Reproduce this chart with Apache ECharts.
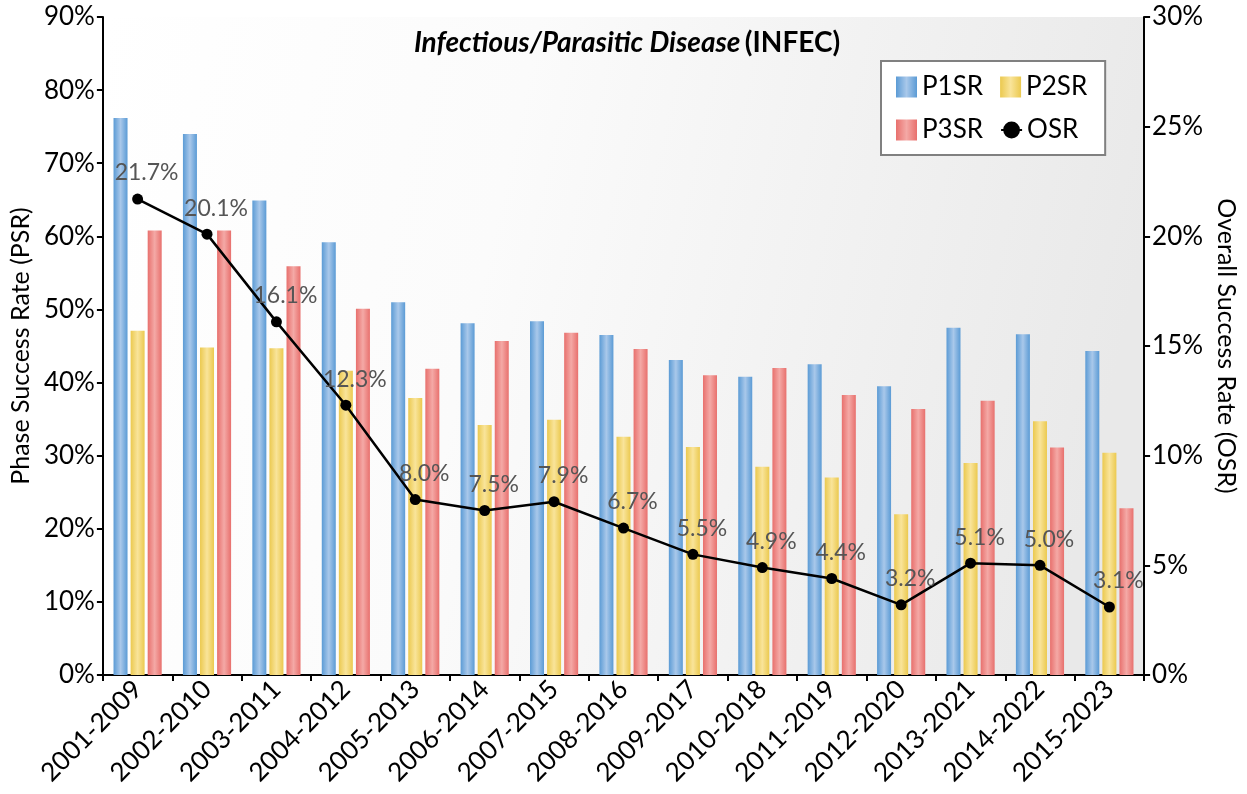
<!DOCTYPE html>
<html>
<head>
<meta charset="utf-8">
<script src="https://cdn.jsdelivr.net/npm/echarts@6/dist/echarts.min.js"></script>
<style>
  html, body { margin: 0; padding: 0; background: #fff; }
  #chart { width: 1247px; height: 794px; }
</style>
</head>
<body>
<div id="chart"></div>
<script>
// periods on the x axis
var periods = ['2001-2009', '2002-2010', '2003-2011', '2004-2012', '2005-2013', '2006-2014', '2007-2015',
  '2008-2016', '2009-2017', '2010-2018', '2011-2019', '2012-2020', '2013-2021', '2014-2022', '2015-2023'];
// phase success rates (%)
var p1sr = [76.2, 74.0, 64.9, 59.2, 51.0, 48.1, 48.4, 46.5, 43.1, 40.8, 42.5, 39.5, 47.5, 46.6, 44.3];
var p2sr = [47.1, 44.8, 44.7, 41.6, 37.9, 34.2, 34.9, 32.6, 31.2, 28.5, 27.0, 22.0, 29.0, 34.7, 30.4];
var p3sr = [60.8, 60.8, 55.9, 50.1, 41.9, 45.7, 46.8, 44.6, 41.0, 42.0, 38.3, 36.4, 37.5, 31.1, 22.8];
// overall success rate (%)
var osr = [21.7, 20.1, 16.1, 12.3, 8.0, 7.5, 7.9, 6.7, 5.5, 4.9, 4.4, 3.2, 5.1, 5.0, 3.1];

var FONT = 'Lato';

function tube(base, light) {
  return new echarts.graphic.LinearGradient(0, 0, 1, 0, [
    {offset: 0, color: base},
    {offset: 0.5, color: light},
    {offset: 1, color: base}
  ]);
}

function barSeries(name, data, base, light) {
  return {
    name: name,
    type: 'bar',
    yAxisIndex: 0,
    data: data,
    barWidth: 14,
    barGap: '22%',
    itemStyle: { color: tube(base, light) }
  };
}

var myChart = echarts.init(document.getElementById('chart'));
myChart.setOption({
  animation: false,
  textStyle: { fontFamily: FONT },
  title: {
    left: 622,
    top: 24,
    textAlign: 'center',
    text: '{a|Infectious/Parasitic Disease} {b|(INFEC)}',
    textStyle: {
      rich: {
        a: { fontFamily: FONT, fontSize: 28, fontWeight: 'bold', fontStyle: 'italic', color: '#000' },
        b: { fontFamily: FONT, fontSize: 28, fontWeight: 'bold', color: '#000' }
      }
    }
  },
  legend: {
    left: 881,
    top: 61,
    width: 200,
    padding: [13, 18, 12, 15],
    itemGap: 17,
    itemWidth: 21,
    itemHeight: 21,
    backgroundColor: '#fff',
    borderColor: '#808080',
    borderWidth: 2,
    textStyle: { fontFamily: FONT, fontSize: 26, color: '#000' },
    data: [
      { name: 'P1SR', icon: 'rect' },
      { name: 'P2SR', icon: 'rect' },
      { name: 'P3SR', icon: 'rect' },
      'OSR'
    ]
  },
  grid: {
    left: 101,
    right: 99,
    top: 17,
    bottom: 119,
    show: true,
    borderWidth: 0,
    backgroundColor: new echarts.graphic.LinearGradient(0, 0, 1, 0.35, [
      {offset: 0, color: '#ffffff'},
      {offset: 0.4, color: '#fbfbfb'},
      {offset: 1, color: '#e9e9e9'}
    ])
  },
  xAxis: {
    type: 'category',
    data: periods,
    axisLine: { lineStyle: { color: '#000', width: 2 } },
    axisTick: { show: true, length: 6, lineStyle: { color: '#000', width: 2 } },
    axisLabel: { interval: 0, rotate: 45, fontSize: 26, color: '#000', margin: 10 }
  },
  yAxis: [
    {
      type: 'value',
      min: 0,
      max: 90,
      interval: 10,
      name: 'Phase Success Rate (PSR)',
      nameLocation: 'middle',
      nameRotate: 90,
      nameGap: 66,
      nameTextStyle: { fontSize: 25, color: '#000' },
      axisLine: { show: true, lineStyle: { color: '#000', width: 2 } },
      axisTick: { show: true, length: 6, lineStyle: { color: '#000', width: 2 } },
      axisLabel: { formatter: '{value}%', fontSize: 26, color: '#000', margin: 8 },
      splitLine: { show: false }
    },
    {
      type: 'value',
      min: 0,
      max: 30,
      interval: 5,
      position: 'right',
      name: 'Overall Success Rate (OSR)',
      nameLocation: 'middle',
      nameRotate: -90,
      nameGap: 64,
      nameTextStyle: { fontSize: 25, color: '#000' },
      axisLine: { show: true, lineStyle: { color: '#000', width: 2 } },
      axisTick: { show: true, length: 6, lineStyle: { color: '#000', width: 2 } },
      axisLabel: { formatter: '{value}%', fontSize: 26, color: '#000', margin: 8 },
      splitLine: { show: false }
    }
  ],
  series: [
    barSeries('P1SR', p1sr, '#5b9bd5', '#a9c8ea'),
    barSeries('P2SR', p2sr, '#ebc94f', '#f9e49a'),
    barSeries('P3SR', p3sr, '#e8706d', '#f4a9a6'),
    {
      name: 'OSR',
      type: 'line',
      yAxisIndex: 1,
      data: osr,
      symbol: 'circle',
      symbolSize: 11,
      z: 5,
      lineStyle: { color: '#000', width: 2.5 },
      itemStyle: { color: '#000' },
      label: {
        show: true,
        position: 'top',
        offset: [9, -4],
        formatter: function (p) { return p.value.toFixed(1) + '%'; },
        fontSize: 23,
        color: '#555'
      }
    }
  ]
});
</script>
</body>
</html>
